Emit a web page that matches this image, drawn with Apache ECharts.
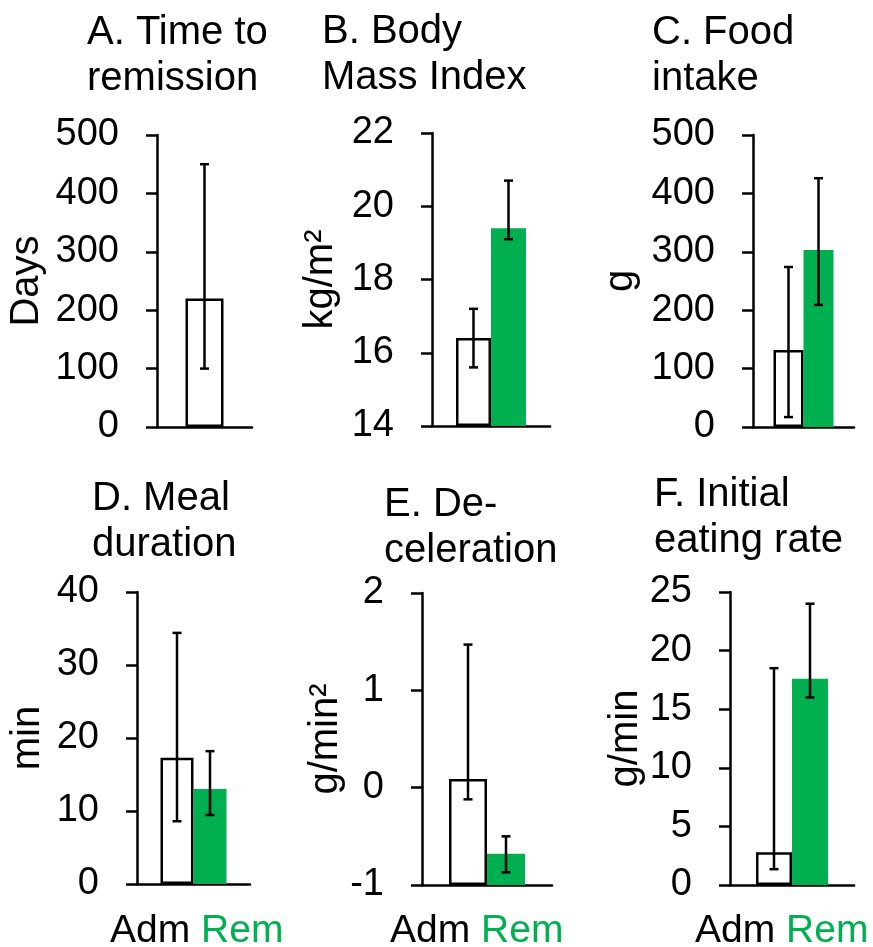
<!DOCTYPE html>
<html>
<head>
<meta charset="utf-8">
<script src="https://cdn.jsdelivr.net/npm/echarts@6/dist/echarts.min.js"></script>
<style>
html, body { margin: 0; padding: 0; background: #fff; }
#chart { width: 873px; height: 947px; }
</style>
</head>
<body>
<div id="chart"></div>
<script>
// panel data
var titles = ['A. Time to\nremission', 'B. Body\nMass Index', 'C. Food\nintake',
              'D. Meal\nduration', 'E. De-\nceleration', 'F. Initial\neating rate'];
var yNames = ['Days', 'kg/m²', 'g', 'min', 'g/min²', 'g/min'];
var yMin = [0, 14, 0, 0, -1, 0];
var yMax = [500, 22, 500, 40, 2, 25];
var yStep = [100, 2, 100, 10, 1, 5];

var admMean = [220, 16.4, 132, 17.3, 0.09, 2.8];
var admLow = [100, 15.6, 17, 8.6, -0.12, 1.35];
var admHigh = [450, 17.2, 274, 34.4, 1.47, 18.5];

var remMean = [null, 19.4, 303, 13.0, -0.68, 17.6];
var remLow = [null, 19.1, 209, 9.45, -0.87, 16.0];
var remHigh = [null, 20.7, 426, 18.2, -0.5, 24.0];

var groupNames = ['Adm', 'Rem'];

// layout of each panel (pixels)
var boxes = [
    {left: 157, top: 135, width: 95, height: 292, barW: 38, gap: 110, tx: 87, ty: 10},
    {left: 432, top: 133, width: 118, height: 293, barW: 35, gap: 91, tx: 322, ty: 9},
    {left: 753, top: 135, width: 101, height: 292, barW: 30, gap: 112, tx: 652, ty: 10},
    {left: 137, top: 592, width: 113, height: 292, barW: 33, gap: 89, tx: 92, ty: 476},
    {left: 422, top: 593, width: 130, height: 292, barW: 38, gap: 76, tx: 384, ty: 482},
    {left: 730, top: 592, width: 124, height: 293, barW: 36, gap: 84, tx: 654, ty: 472}
];
var legendPos = [null, null, null, {x: 110, y: 935}, {x: 390, y: 935}, {x: 695, y: 935}];

var FONT = '"Liberation Sans", Arial, sans-serif';
var GREEN = '#00B050';
var LW = 2.5;

function errorBars(offset, halfCap) {
    return function (params, api) {
        var lo = api.coord([api.value(0), api.value(1)]);
        var hi = api.coord([api.value(0), api.value(2)]);
        var x = lo[0] + offset;
        var st = {stroke: '#000', lineWidth: LW};
        return {
            type: 'group',
            children: [
                {type: 'line', shape: {x1: x, y1: lo[1], x2: x, y2: hi[1]}, style: st},
                {type: 'line', shape: {x1: x - halfCap, y1: hi[1], x2: x + halfCap, y2: hi[1]}, style: st},
                {type: 'line', shape: {x1: x - halfCap, y1: lo[1], x2: x + halfCap, y2: lo[1]}, style: st}
            ]
        };
    };
}

var option = {
    animation: false,
    backgroundColor: '#fff',
    title: [], grid: [], xAxis: [], yAxis: [], series: [], graphic: []
};

boxes.forEach(function (b, i) {
    var hasRem = remMean[i] !== null;
    option.title.push({
        text: titles[i], left: b.tx, top: b.ty, padding: 0,
        textStyle: {fontFamily: FONT, fontSize: 40, fontWeight: 'normal', color: '#000', lineHeight: 46}
    });
    option.grid.push({left: b.left, top: b.top, width: b.width, height: b.height});
    option.xAxis.push({
        type: 'category', gridIndex: i, data: [''],
        axisLine: {onZero: false, lineStyle: {color: '#000', width: LW}},
        axisTick: {show: false}, axisLabel: {show: false}
    });
    option.yAxis.push({
        type: 'value', gridIndex: i, min: yMin[i], max: yMax[i], interval: yStep[i],
        startValue: yMin[i],
        name: yNames[i], nameLocation: 'middle', nameGap: b.gap,
        nameTextStyle: {fontFamily: FONT, fontSize: 40, color: '#000'},
        axisLine: {show: true, lineStyle: {color: '#000', width: LW}},
        axisTick: {show: true, length: 11, lineStyle: {color: '#000', width: LW}},
        axisLabel: {fontFamily: FONT, fontSize: 38, color: '#000', margin: 38},
        splitLine: {show: false}
    });
    option.series.push({
        name: groupNames[0], type: 'bar', xAxisIndex: i, yAxisIndex: i,
        barWidth: b.barW, barGap: 0, z: 2,
        itemStyle: {color: '#fff', borderColor: '#000', borderWidth: LW},
        data: [admMean[i]]
    });
    if (hasRem) {
        option.series.push({
            name: groupNames[1], type: 'bar', xAxisIndex: i, yAxisIndex: i,
            barWidth: b.barW, barGap: 0, z: 2,
            itemStyle: {color: GREEN},
            data: [remMean[i]]
        });
    }
    option.series.push({
        type: 'custom', xAxisIndex: i, yAxisIndex: i, z: 5,
        renderItem: errorBars(hasRem ? -b.barW / 2 : 0, 4.5),
        data: [[0, admLow[i], admHigh[i]]]
    });
    if (hasRem) {
        option.series.push({
            type: 'custom', xAxisIndex: i, yAxisIndex: i, z: 5,
            renderItem: errorBars(b.barW / 2, 4.5),
            data: [[0, remLow[i], remHigh[i]]]
        });
    }
    if (legendPos[i]) {
        option.graphic.push({
            type: 'text', left: legendPos[i].x, top: legendPos[i].y - 23,
            style: {
                text: '{a|' + groupNames[0] + '} {r|' + groupNames[1] + '}',
                font: '39px ' + FONT,
                rich: {
                    a: {fontFamily: FONT, fontSize: 39, fill: '#000'},
                    r: {fontFamily: FONT, fontSize: 39, fill: GREEN}
                }
            }
        });
    }
});

var chart = echarts.init(document.getElementById('chart'));
chart.setOption(option);
</script>
</body>
</html>
